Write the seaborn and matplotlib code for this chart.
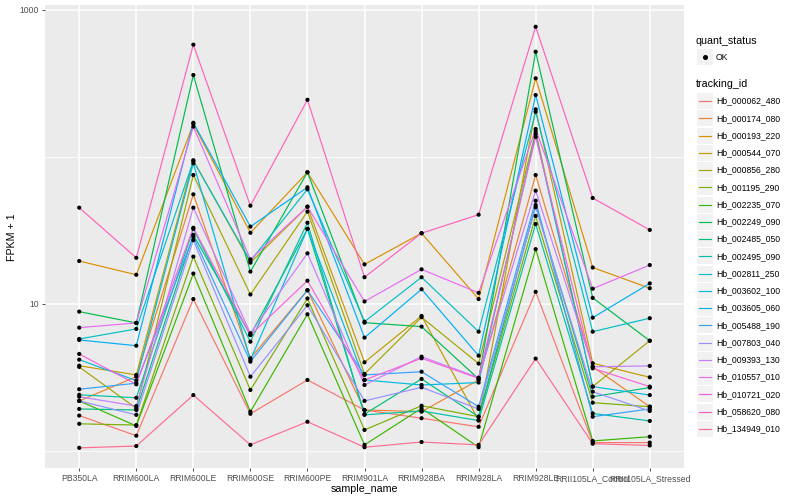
import numpy as np
import pandas as pd
import matplotlib
matplotlib.use("Agg")
import matplotlib.pyplot as plt
import seaborn as sns
from matplotlib.lines import Line2D
from matplotlib.patches import Rectangle
from matplotlib.ticker import FixedLocator, NullFormatter, FixedFormatter

samples = ["PB350LA", "RRIM600LA", "RRIM600LE", "RRIM600SE", "RRIM600PE",
           "RRIM901LA", "RRIM928BA", "RRIM928LA", "RRIM928LE",
           "RRII105LA_Control", "RRII105LA_Stressed"]

tracking_ids = ["Hb_000062_480", "Hb_000174_080", "Hb_000193_220", "Hb_000544_070",
                "Hb_000856_280", "Hb_001195_290", "Hb_002235_070", "Hb_002249_090",
                "Hb_002485_050", "Hb_002495_090", "Hb_002811_250", "Hb_003602_100",
                "Hb_003605_060", "Hb_005488_190", "Hb_007803_040", "Hb_009393_130",
                "Hb_010557_010", "Hb_010721_020", "Hb_058620_080", "Hb_134949_010"]

# FPKM + 1 per sample, one list per transcript
hb_000062_480 = [1.74, 1.27, 10.8, 1.79, 3.04, 1.90, 1.67, 1.46, 12.1, 1.14, 1.14]
hb_000174_080 = [2.19, 3.20, 55.7, 4.27, 12.4, 1.90, 1.85, 3.04, 75.4, 3.74, 2.00]
hb_000193_220 = [19.6, 15.8, 168, 30.5, 78.7, 18.6, 30.3, 10.8, 343, 17.7, 12.8]
hb_000544_070 = [3.80, 3.29, 95, 19.1, 45.9, 4.01, 8.29, 1.62, 211, 3.95, 3.17]
hb_000856_280 = [3.73, 1.95, 75.4, 11.6, 42.5, 3.34, 8.12, 3.93, 149, 2.74, 5.62]
hb_001195_290 = [1.53, 1.50, 21.0, 2.60, 10.9, 1.39, 2.03, 1.71, 39.7, 2.13, 2.00]
hb_002235_070 = [2.19, 1.48, 16.1, 1.85, 8.51, 1.10, 1.95, 1.06, 23.6, 1.17, 1.25]
hb_002249_090 = [8.87, 7.43, 361, 16.6, 78.7, 7.46, 7.01, 3.09, 520, 11.0, 5.62]
hb_002485_050 = [1.93, 1.90, 29.5, 6.15, 32.4, 1.78, 3.09, 1.71, 47.1, 2.34, 2.70]
hb_002495_090 = [2.41, 2.30, 32.4, 5.54, 35.7, 1.76, 1.87, 1.61, 35.0, 1.80, 1.60]
hb_002811_250 = [5.78, 6.76, 94, 19.6, 60.3, 7.58, 15.2, 6.48, 203, 6.48, 8.0]
hb_003602_100 = [4.18, 3.01, 90.6, 4.16, 32.4, 3.04, 2.81, 2.92, 143, 2.74, 2.40]
hb_003605_060 = [5.69, 5.20, 171, 33.6, 62.2, 5.90, 12.6, 4.45, 264, 8.07, 13.8]
hb_005488_190 = [2.63, 2.89, 28.7, 4.05, 12.4, 3.29, 3.46, 2.00, 50.4, 1.71, 1.93]
hb_007803_040 = [2.19, 1.76, 27.2, 3.20, 9.8, 2.19, 2.71, 1.93, 45.5, 2.53, 1.87]
hb_009393_130 = [2.34, 2.02, 45.2, 6.32, 22.1, 2.81, 4.38, 3.15, 59.0, 3.74, 3.79]
hb_010557_010 = [6.90, 7.43, 161, 20.1, 45.9, 10.4, 17.2, 11.9, 155, 12.7, 18.4]
hb_010721_020 = [4.57, 2.84, 33.0, 6.15, 14.4, 3.04, 4.27, 3.12, 137, 3.65, 2.74]
hb_058620_080 = [45.2, 20.6, 581, 46.6, 245, 15.2, 30.3, 40.5, 769, 52.6, 31.9]
hb_134949_010 = [1.05, 1.08, 2.40, 1.10, 1.58, 1.06, 1.15, 1.10, 4.25, 1.12, 1.09]

series_values = [hb_000062_480, hb_000174_080, hb_000193_220, hb_000544_070,
                 hb_000856_280, hb_001195_290, hb_002235_070, hb_002249_090,
                 hb_002485_050, hb_002495_090, hb_002811_250, hb_003602_100,
                 hb_003605_060, hb_005488_190, hb_007803_040, hb_009393_130,
                 hb_010557_010, hb_010721_020, hb_058620_080, hb_134949_010]

palette = ["#F8766D", "#EA8331", "#D89000", "#C09B00", "#A3A500", "#7CAE00",
           "#39B600", "#00BB4E", "#00BF7D", "#00C1A3", "#00BFC4", "#00BAE0",
           "#00B0F6", "#35A2FF", "#9590FF", "#C77CFF", "#E76BF3", "#FA62DB",
           "#FF62BC", "#FF6C91"]

rows = []
for tid, vals in zip(tracking_ids, series_values):
    for s, v in zip(samples, vals):
        rows.append({"sample_name": s, "tracking_id": tid, "fpkm": v, "quant_status": "OK"})
df = pd.DataFrame(rows)

plt.rcParams['font.family'] = ['Liberation Sans', 'DejaVu Sans']

W, H = 800, 500
fig = plt.figure(figsize=(8, 5), dpi=100)
fig.patch.set_facecolor("white")
ax = fig.add_axes([45 / W, (H - 468) / H, (684 - 45) / W, (468 - 5) / H])
ax.set_facecolor("#EBEBEB")

sns.lineplot(data=df, x="sample_name", y="fpkm", hue="tracking_id",
             hue_order=tracking_ids, palette=palette, estimator=None,
             sort=False, units="tracking_id", lw=0.85, legend=False, ax=ax)
sns.scatterplot(data=df, x="sample_name", y="fpkm", color="black", s=9,
                edgecolor="none", legend=False, ax=ax, zorder=5)

ax.set_yscale("log")
ax.set_ylim(10 ** -0.116, 10 ** 3.034)
ax.set_xlim(-0.6, len(samples) - 0.4)
ax.yaxis.set_major_locator(FixedLocator([10, 1000]))
ax.yaxis.set_major_formatter(FixedFormatter(["10", "1000"]))
ax.yaxis.set_minor_locator(FixedLocator([1, 100]))
ax.yaxis.set_minor_formatter(NullFormatter())
ax.set_xticks(range(len(samples)))
ax.set_xticklabels(samples)

ax.set_axisbelow(True)
ax.grid(True, which="major", color="white", lw=1.1)
ax.grid(True, which="minor", axis="y", color="white", lw=0.55)
for sp in ax.spines.values():
    sp.set_visible(False)
ax.tick_params(which="major", length=2.5, width=0.6, color="#333333",
               labelcolor="#4D4D4D", labelsize=6.2, pad=2)
ax.tick_params(which="minor", length=0)
ax.set_xlabel("")
ax.set_ylabel("")

fig.text(364.5 / W, 1 - 489 / H, "sample_name", ha="center", va="center", fontsize=7.7, color="black")
fig.text(12 / W, 1 - 237 / H, "FPKM + 1", ha="center", va="center", rotation=90, fontsize=7.7, color="black")

# legend (ggplot style)
def fx(px):
    return px / W

def fy(py):
    return 1 - py / H

fig.text(fx(696), fy(40.7), "quant_status", ha="left", va="center", fontsize=7.7)
fig.add_artist(Rectangle((fx(696.5), fy(65)), 16 / W, 16 / H, transform=fig.transFigure,
                         facecolor="#F2F2F2", edgecolor="none"))
fig.add_artist(Line2D([fx(704.5)], [fy(57)], marker="o", markersize=2.6, color="black",
                      linestyle="none", transform=fig.transFigure))
fig.text(fx(716), fy(57), "OK", ha="left", va="center", fontsize=6.2, color="black")

fig.text(fx(696), fy(84), "tracking_id", ha="left", va="center", fontsize=7.7)
for i, (tid, col) in enumerate(zip(tracking_ids, palette)):
    cy = 101 + i * 17.26
    fig.add_artist(Rectangle((fx(696.5), fy(cy + 8)), 16 / W, 16 / H, transform=fig.transFigure,
                             facecolor="#F2F2F2", edgecolor="none"))
    fig.add_artist(Line2D([fx(698.5), fx(710.5)], [fy(cy), fy(cy)], color=col, lw=0.85,
                          transform=fig.transFigure))
    fig.text(fx(716), fy(cy), tid, ha="left", va="center", fontsize=6.2, color="black")

fig.savefig("out.png", dpi=100)
